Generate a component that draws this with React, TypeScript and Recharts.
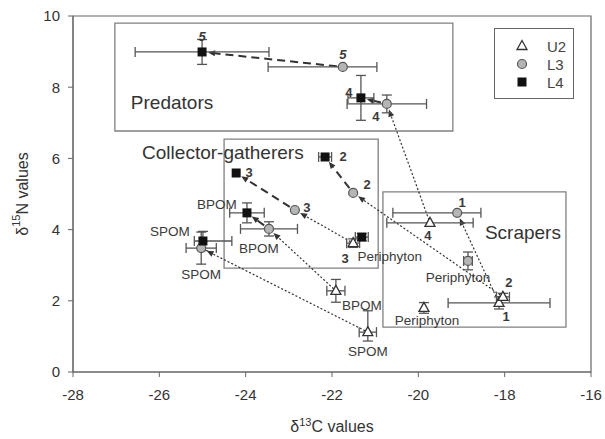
import {
  ScatterChart,
  Scatter,
  XAxis,
  YAxis,
  ErrorBar,
  ReferenceArea,
  ReferenceLine,
} from "recharts";

type Err = number | [number, number];
type Site = "U2" | "L3" | "L4";

const FONT = "'Liberation Sans', Arial, Helvetica, sans-serif";

// Taxa / sources sampled at each site
const u2Labels = ["1", "2", "3", "4", "BPOM", "SPOM", "Periphyton"];
const u2C = [-18.13, -18.04, -21.51, -19.73, -21.91, -21.17, -19.87];
const u2N = [1.94, 2.11, 3.62, 4.19, 2.28, 1.12, 1.8];
const u2ErrC: Err[] = [1.18, 0.15, 0.15, 1.0, 0.21, 0.2, 0];
const u2ErrN: Err[] = [0.17, 0.1, 0.12, 0, 0.32, [0.25, 0.6], 0.15];

const l3Labels = ["1", "2", "3", "4", "5", "BPOM", "SPOM", "Periphyton"];
const l3C = [-19.1, -21.51, -22.86, -20.73, -21.75, -23.46, -25.03, -18.85];
const l3N = [4.47, 5.03, 4.55, 7.53, 8.57, 4.02, 3.48, 3.12];
const l3ErrC: Err[] = [[1.49, 0.55], 0, 0, 0.92, [1.73, 0.79], 0.66, 0.35, 0.1];
const l3ErrN: Err[] = [0, 0, 0, 0.25, 0, 0.2, 0.45, 0.25];

const l4Labels = ["2", "3", "4", "5", "BPOM", "SPOM", "Periphyton"];
const l4C = [-22.16, -24.22, -21.33, -25.01, -23.97, -24.99, -21.31];
const l4N = [6.04, 5.59, 7.7, 8.99, 4.47, 3.68, 3.79];
const l4ErrC: Err[] = [0.15, 0, 0.3, 1.55, 0.4, [0.2, 0.67], 0.15];
const l4ErrN: Err[] = [0, 0, 0.63, 0.35, 0.28, 0.27, 0.1];

const xTicks = [-28, -26, -24, -22, -20, -18, -16];
const yTicks = [0, 2, 4, 6, 8, 10];

// Feeding-group boxes (in δ13C / δ15N units)
const groupNames = ["Predators", "Collector-gatherers", "Scrapers"];
const groupC: [number, number][] = [
  [-27.03, -19.2],
  [-24.5, -20.93],
  [-20.82, -16.58],
];
const groupN: [number, number][] = [
  [6.77, 9.8],
  [2.92, 6.54],
  [1.26, 5.06],
];

// Site-to-site shifts: U2 -> L3 dotted, L3 -> L4 dashed
const links: { label: string; from: Site; to: Site; kind: "dotted" | "dashed" | "solid" }[] = [
  { label: "1", from: "U2", to: "L3", kind: "dotted" },
  { label: "2", from: "U2", to: "L3", kind: "dotted" },
  { label: "3", from: "U2", to: "L3", kind: "dotted" },
  { label: "4", from: "U2", to: "L3", kind: "dotted" },
  { label: "BPOM", from: "U2", to: "L3", kind: "dotted" },
  { label: "SPOM", from: "U2", to: "L3", kind: "dotted" },
  { label: "2", from: "L3", to: "L4", kind: "dashed" },
  { label: "3", from: "L3", to: "L4", kind: "dashed" },
  { label: "5", from: "L3", to: "L4", kind: "dashed" },
  { label: "4", from: "L3", to: "L4", kind: "solid" },
  { label: "BPOM", from: "L3", to: "L4", kind: "solid" },
];

const build = (labels: string[], c: number[], n: number[], ec: Err[], en: Err[]) =>
  labels.map((label, i) => ({ label, c: c[i], n: n[i], ec: ec[i], en: en[i] }));

const series: Record<Site, ReturnType<typeof build>> = {
  U2: build(u2Labels, u2C, u2N, u2ErrC, u2ErrN),
  L3: build(l3Labels, l3C, l3N, l3ErrC, l3ErrN),
  L4: build(l4Labels, l4C, l4N, l4ErrC, l4ErrN),
};

const findPoint = (site: Site, label: string) => series[site].find((p) => p.label === label)!;

// text offsets (px) from each marker
const labelOffset: Record<string, [number, number]> = {
  "L4:5": [0, -15],
  "L3:5": [0, -12],
  "L4:4": [-12, -5],
  "L3:4": [-11, 13],
  "L4:2": [18, 0],
  "L3:2": [14, -8],
  "L4:3": [13, 0],
  "L3:3": [12, -3],
  "U2:3": [-8, 15],
  "U2:4": [-2, 13],
  "L3:1": [5, -10],
  "U2:1": [7, 14],
  "U2:2": [6, -14],
  "L4:BPOM": [-30, -8],
  "L3:BPOM": [-10, 20],
  "L4:SPOM": [-33, -9],
  "L3:SPOM": [0, 26],
  "U2:BPOM": [26, 15],
  "U2:SPOM": [0, 19],
  "L4:Periphyton": [28, 19],
  "L3:Periphyton": [-10, 17],
  "U2:Periphyton": [3, 13],
};

const marker = (site: Site, cx: number, cy: number) => {
  if (site === "U2") {
    return (
      <polygon
        points={`${cx},${cy - 5.5} ${cx - 5},${cy + 3.5} ${cx + 5},${cy + 3.5}`}
        fill="#fff"
        stroke="#333"
        strokeWidth={1.3}
      />
    );
  }
  if (site === "L3") {
    return <circle cx={cx} cy={cy} r={4.5} fill="#b5b5b5" stroke="#555" strokeWidth={1.2} />;
  }
  return <rect x={cx - 4.5} y={cy - 4.5} width={9} height={9} fill="#111" />;
};

const makeShape = (site: Site) => (props: any) => {
  const { cx, cy, payload } = props;
  if (cx == null || cy == null) return <g />;
  const label: string = payload.label;
  const off = labelOffset[`${site}:${label}`] ?? [0, -12];
  const numeric = /^\d+$/.test(label);
  return (
    <g>
      {marker(site, cx, cy)}
      <text
        x={cx + off[0]}
        y={cy + off[1]}
        textAnchor="middle"
        dominantBaseline="central"
        fontFamily={FONT}
        fontSize={numeric ? 13 : 13.5}
        fontWeight={numeric ? 700 : 400}
        fontStyle={numeric && label === "5" ? "italic" : "normal"}
        fill="#3a3a3a"
      >
        {label}
      </text>
    </g>
  );
};

const arrowShape = (kind: "dotted" | "dashed" | "solid") => (p: any) => {
  const { x1, y1, x2, y2 } = p;
  const dx = x2 - x1;
  const dy = y2 - y1;
  const len = Math.hypot(dx, dy) || 1;
  const ux = dx / len;
  const uy = dy / len;
  const gap = 6;
  const tipX = x2 - ux * gap;
  const tipY = y2 - uy * gap;
  const head = 7;
  const half = 3;
  const bx = tipX - ux * head;
  const by = tipY - uy * head;
  const sx = x1 + ux * (kind === "dotted" ? 3 : gap);
  const sy = y1 + uy * (kind === "dotted" ? 3 : gap);
  const dash = kind === "dotted" ? "2 2" : kind === "dashed" ? "8 5" : undefined;
  const width = kind === "dotted" ? 1.2 : 2;
  return (
    <g>
      <line x1={sx} y1={sy} x2={bx} y2={by} stroke="#333" strokeWidth={width} strokeDasharray={dash} />
      <polygon
        points={`${tipX},${tipY} ${bx - uy * half},${by + ux * half} ${bx + uy * half},${by - ux * half}`}
        fill="#333"
      />
    </g>
  );
};

const groupLabel = (name: string) => (props: any) => {
  const vb = props.viewBox;
  if (!vb) return null;
  let x = vb.x + 16;
  let y = vb.y + vb.height - 22;
  let anchor: "start" | "end" = "start";
  if (name === "Collector-gatherers") {
    x = vb.x - 82;
    y = vb.y + 20;
  } else if (name === "Scrapers") {
    x = vb.x + vb.width - 5;
    y = vb.y + 47;
    anchor = "end";
  }
  return (
    <text x={x} y={y} textAnchor={anchor} fontFamily={FONT} fontSize={19} fill="#333">
      {name}
    </text>
  );
};

const YLabel = (props: any) => {
  const vb = props.viewBox;
  const cx = 22;
  const cy = vb.y + vb.height / 2;
  return (
    <text
      x={cx}
      y={cy}
      transform={`rotate(-90, ${cx}, ${cy})`}
      textAnchor="middle"
      dominantBaseline="central"
      fontFamily={FONT}
      fontSize={16}
      fill="#333"
    >
      δ<tspan dy={-6} fontSize={11}>15</tspan>
      <tspan dy={6}>N values</tspan>
    </text>
  );
};

const XLabel = (props: any) => {
  const vb = props.viewBox;
  const cx = vb.x + vb.width / 2;
  return (
    <text x={cx} y={432} textAnchor="middle" fontFamily={FONT} fontSize={16} fill="#333">
      δ<tspan dy={-6} fontSize={11}>13</tspan>
      <tspan dy={6}>C values</tspan>
    </text>
  );
};

const legendItems: Site[] = ["U2", "L3", "L4"];

const Legend = () => (
  <div
    style={{
      position: "absolute",
      left: 494,
      top: 28,
      width: 80,
      height: 71,
      border: "1.5px solid #666",
      boxSizing: "border-box",
      background: "#fff",
    }}
  >
    <svg width={77} height={68}>
      {legendItems.map((site, i) => (
        <g key={site}>
          {marker(site, 27, 17 + i * 18)}
          <text x={52} y={17 + i * 18} dominantBaseline="central" fontFamily={FONT} fontSize={15} fill="#444">
            {site}
          </text>
        </g>
      ))}
    </svg>
  </div>
);

const tickStyle = { fontFamily: FONT, fontSize: 15, fill: "#333" };

export default function App() {
  return (
    <div style={{ position: "fixed", left: 0, top: 0, width: 605, height: 439, background: "#fff" }}>
      <ScatterChart width={605} height={439} margin={{ top: 16, right: 14, bottom: 0, left: 0 }}>
        <XAxis
          type="number"
          dataKey="c"
          domain={[-28, -16]}
          ticks={xTicks}
          allowDataOverflow
          height={67}
          tickSize={5}
          tickMargin={12}
          tick={tickStyle}
          stroke="#666"
          tickLine={{ stroke: "#666" }}
          label={<XLabel />}
        />
        <YAxis
          type="number"
          dataKey="n"
          domain={[0, 10]}
          ticks={yTicks}
          allowDataOverflow
          width={73}
          tickSize={5}
          tickMargin={8}
          tick={tickStyle}
          stroke="#666"
          tickLine={{ stroke: "#666" }}
          label={<YLabel />}
        />
        <ReferenceArea x1={-28} x2={-16} y1={0} y2={10} fill="none" stroke="#666" strokeWidth={1.2} />
        {groupNames.map((name, i) => (
          <ReferenceArea
            key={name}
            x1={groupC[i][0]}
            x2={groupC[i][1]}
            y1={groupN[i][0]}
            y2={groupN[i][1]}
            fill="none"
            stroke="#808080"
            strokeWidth={1.3}
            ifOverflow="visible"
            label={groupLabel(name)}
          />
        ))}
        {links.map((l) => {
          const a = findPoint(l.from, l.label);
          const b = findPoint(l.to, l.label);
          return (
            <ReferenceLine
              key={`${l.from}-${l.to}-${l.label}`}
              segment={[
                { x: a.c, y: a.n },
                { x: b.c, y: b.n },
              ]}
              ifOverflow="visible"
              shape={arrowShape(l.kind)}
            />
          );
        })}
        {(["U2", "L3", "L4"] as Site[]).map((site) => (
          <Scatter key={site} name={site} data={series[site]} shape={makeShape(site)} isAnimationActive={false}>
            <ErrorBar dataKey="ec" direction="x" width={5} stroke="#555" strokeWidth={1.3} />
            <ErrorBar dataKey="en" direction="y" width={5} stroke="#555" strokeWidth={1.3} />
          </Scatter>
        ))}
      </ScatterChart>
      <Legend />
    </div>
  );
}
